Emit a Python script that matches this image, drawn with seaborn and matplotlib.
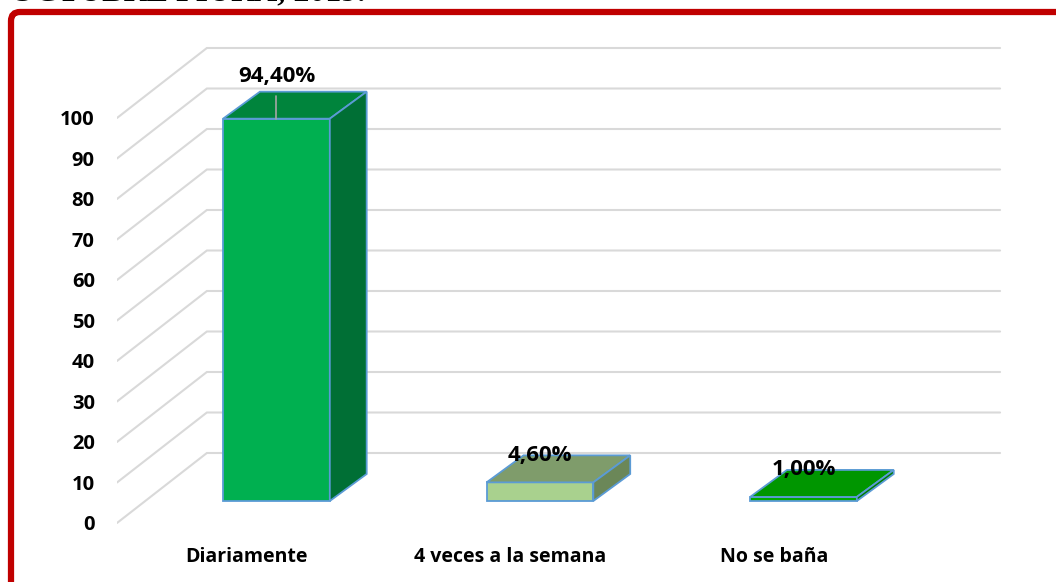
import matplotlib.pyplot as plt
import matplotlib.patches as mpatches
import matplotlib.transforms as mtransforms
import pandas as pd
import seaborn as sns

categories = ["Diariamente", "4 veces a la semana", "No se baña"]
percentages = [94.4, 4.6, 1.0]
value_labels = ["94,40%", "4,60%", "1,00%"]
tick_values = [0, 10, 20, 30, 40, 50, 60, 70, 80, 90, 100]
title_text = "OCTUBRE PIURA, 2019."

front_colors = ["#00B050", "#A9D18E", "#00A800"]
top_colors = ["#00843C", "#7F9C6B", "#009600"]
side_colors = ["#006F35", "#6B8758", "#007A00"]
edge_color = "#5B9BD5"
grid_color = "#D9D9D9"

# fake 3d geometry (category units / value units)
bar_dx, bar_dy = 0.140, 6.67        # depth of the bars
back_dx, back_dy = 0.341, 11.85     # back wall relative to bar plane
front_dy = -5.43                    # front edge (tick labels) relative to bar plane
front_x = -0.605
wall_right = 2.746
label_lift = [3.8, 0.0, 0.0]

sns.set_theme(style="white")
plt.rcParams["font.family"] = ["Open Sans", "DejaVu Sans"]

df = pd.DataFrame({"categoria": categories, "porcentaje": percentages})

fig = plt.figure(figsize=(10.56, 5.82), dpi=100)
W, H = 1056, 582
left, right, bottom, top = 117, 1005, 530, 30
ax = fig.add_axes([left / W, 1 - bottom / H, (right - left) / W, (bottom - top) / H])

sns.barplot(
    data=df,
    x="categoria",
    y="porcentaje",
    hue="categoria",
    palette=front_colors,
    saturation=1,
    width=0.405,
    legend=False,
    edgecolor=edge_color,
    linewidth=1.3,
    zorder=3,
    ax=ax,
)

# back wall gridlines + side wall diagonals
for v in tick_values:
    ax.plot(
        [front_x, front_x + back_dx, wall_right],
        [v + front_dy, v + back_dy, v + back_dy],
        color=grid_color,
        linewidth=1.5,
        zorder=1,
        solid_joinstyle="miter",
    )

# top and side faces of each bar
for i, patch in enumerate(ax.patches[: len(categories)]):
    x0 = patch.get_x()
    w = patch.get_width()
    h = patch.get_height()
    x1 = x0 + w
    top_face = [(x0, h), (x1, h), (x1 + bar_dx, h + bar_dy), (x0 + bar_dx, h + bar_dy)]
    side_face = [(x1, 0), (x1 + bar_dx, bar_dy), (x1 + bar_dx, h + bar_dy), (x1, h)]
    ax.add_patch(mpatches.Polygon(top_face, closed=True, facecolor=top_colors[i],
                                  edgecolor=edge_color, linewidth=1.3, zorder=3))
    ax.add_patch(mpatches.Polygon(side_face, closed=True, facecolor=side_colors[i],
                                  edgecolor=edge_color, linewidth=1.3, zorder=3))

    cx = x0 + w / 2
    ly = h + bar_dy + label_lift[i]
    if label_lift[i] > 0:
        ax.plot([cx, cx], [h, h + bar_dy - 1], color="#A6A6A6", linewidth=1.2, zorder=4)
    ax.text(cx, ly, value_labels[i], ha="center", va="center",
            fontsize=16, fontweight="bold", color="black", zorder=5)

ax.set_xlim(front_x, (right - 276.5) / 263.5)
ax.set_ylim((501 - bottom) / 4.05, (501 - top) / 4.05)

ax.set_yticks([v + front_dy for v in tick_values])
ax.set_yticklabels([str(v) for v in tick_values], fontsize=14.5, fontweight="bold")
ax.set_xticks([i - 0.113 for i in range(len(categories))])
ax.set_xticklabels(categories, fontsize=14, fontweight="bold")
ax.tick_params(axis="y", length=0, pad=16, labelcolor="black")
ax.tick_params(axis="x", length=0, pad=12, labelcolor="black")
ax.set_xlabel("")
ax.set_ylabel("")
for s in ax.spines.values():
    s.set_visible(False)
ax.set_facecolor("none")

# red frame (pixel coordinates)
frame = mpatches.FancyBboxPatch(
    (11, -60), 1200, 570 + 60,
    boxstyle="round,pad=0,rounding_size=9",
    transform=mtransforms.IdentityTransform(),
    facecolor="none",
    edgecolor="#C00000",
    linewidth=4.5,
    clip_on=False,
)
fig.add_artist(frame)

# title sits above the frame and is cut by the image edge, as in the source
fig.text(10 / W, 1.0, title_text, ha="left", va="baseline",
         fontsize=23, fontweight="bold", family="Liberation Serif", color="black")

fig.savefig("out.png", dpi=100)
